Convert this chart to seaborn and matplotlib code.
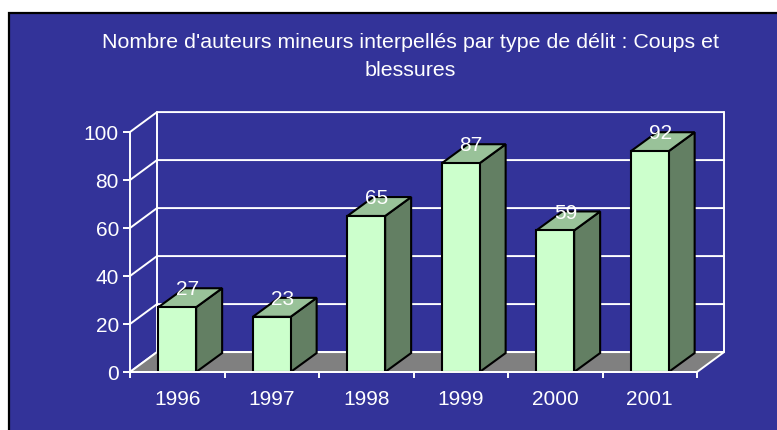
import matplotlib
matplotlib.use('Agg')
import matplotlib.pyplot as plt
import seaborn as sns
import pandas as pd
from matplotlib.patches import Polygon, Rectangle

years = ['1996', '1997', '1998', '1999', '2000', '2001']
values = [27, 23, 65, 87, 59, 92]
yticks = [0, 20, 40, 60, 80, 100]
title = "Nombre d'auteurs mineurs interpellés par type de délit : Coups et\nblessures"

sns.set_theme(style='white')
plt.rcParams['font.family'] = ['Liberation Sans', 'DejaVu Sans']

BG = '#333399'
FRONT = '#ccffcc'
SIDE = '#637f63'
TOP = '#99c299'
FLOOR = '#808080'
W = 'white'

fig = plt.figure(figsize=(7.77, 4.30), dpi=100)
fig.patch.set_facecolor('white')
fig.patches.append(Rectangle((8.5 / 777, -0.02), 1.0, (430 - 12.5) / 430 + 0.02,
                             transform=fig.transFigure, facecolor=BG,
                             edgecolor='black', linewidth=1.6, zorder=-5))

ax = fig.add_axes([130 / 777, 58 / 430, 567 / 777, 240 / 430])
ax.set_zorder(2)
ax.patch.set_alpha(0)

df = pd.DataFrame({'year': years, 'value': values})
sns.barplot(data=df, x='year', y='value', color=FRONT, width=0.4,
            edgecolor='black', linewidth=1.5, saturation=1, ax=ax, zorder=4)
ax.set_xlim(-0.5, 5.5)
ax.set_ylim(0, 100)

DXW, DYW = 0.286, 8.3   # wall depth in data units
DXB, DYB = 0.275, 7.9   # bar depth

lw = 1.4
# back wall grid lines & left wall diagonals
for v in yticks:
    ax.plot([-0.5, -0.5 + DXW, 5.5 + DXW], [v, v + DYW, v + DYW],
            color=W, lw=lw, clip_on=False, zorder=1)
ax.plot([-0.5 + DXW] * 2, [DYW, 100 + DYW], color=W, lw=lw, clip_on=False, zorder=1)
ax.plot([5.5 + DXW] * 2, [DYW, 100 + DYW], color=W, lw=lw, clip_on=False, zorder=1)
# floor
ax.add_patch(Polygon([(-0.5, 0), (5.5, 0), (5.5 + DXW, DYW), (-0.5 + DXW, DYW)],
                     closed=True, facecolor=FLOOR, edgecolor=W, lw=lw,
                     clip_on=False, zorder=2))

bars = [p for p in ax.patches if isinstance(p, Rectangle)]
for p in bars:
    x0 = p.get_x(); w = p.get_width(); h = p.get_height()
    p.set_clip_on(False)
    ax.add_patch(Polygon([(x0 + w, 0), (x0 + w + DXB, DYB), (x0 + w + DXB, h + DYB), (x0 + w, h)],
                         closed=True, facecolor=SIDE, edgecolor='black', lw=1.5,
                         joinstyle='miter', clip_on=False, zorder=3.5))
    ax.add_patch(Polygon([(x0, h), (x0 + w, h), (x0 + w + DXB, h + DYB), (x0 + DXB, h + DYB)],
                         closed=True, facecolor=TOP, edgecolor='black', lw=1.5,
                         joinstyle='miter', clip_on=False, zorder=3.5))

for i, v in enumerate(values):
    ax.text(i + 0.11, v + 7.2, str(v), ha='center', va='center', color=W,
            fontsize=15, zorder=10)

for s in ['top', 'right']:
    ax.spines[s].set_visible(False)
for s in ['left', 'bottom']:
    ax.spines[s].set_color(W)
    ax.spines[s].set_linewidth(lw)
    ax.spines[s].set_zorder(5)

ax.set_yticks(yticks)
ax.set_yticklabels([str(t) for t in yticks])
ax.tick_params(axis='y', colors=W, labelcolor=W, labelsize=15, length=5, width=lw,
               direction='out', left=True, pad=3)
ax.set_xticks(range(len(years)))
ax.set_xticklabels(years)
ax.set_xticks([i - 0.5 for i in range(len(years) + 1)], minor=True)
ax.tick_params(axis='x', which='major', length=0, labelcolor=W, labelsize=15, pad=13)
ax.tick_params(axis='x', which='minor', length=4.5, width=lw, color=W, direction='out', bottom=True)
ax.set_xlabel('')
ax.set_ylabel('')

fig.text(410 / 777, 1 - 57 / 430, title, ha='center', va='center', fontsize=15.4,
         color=W, linespacing=1.6)

fig.savefig('out.png', dpi=100, facecolor=fig.get_facecolor())
